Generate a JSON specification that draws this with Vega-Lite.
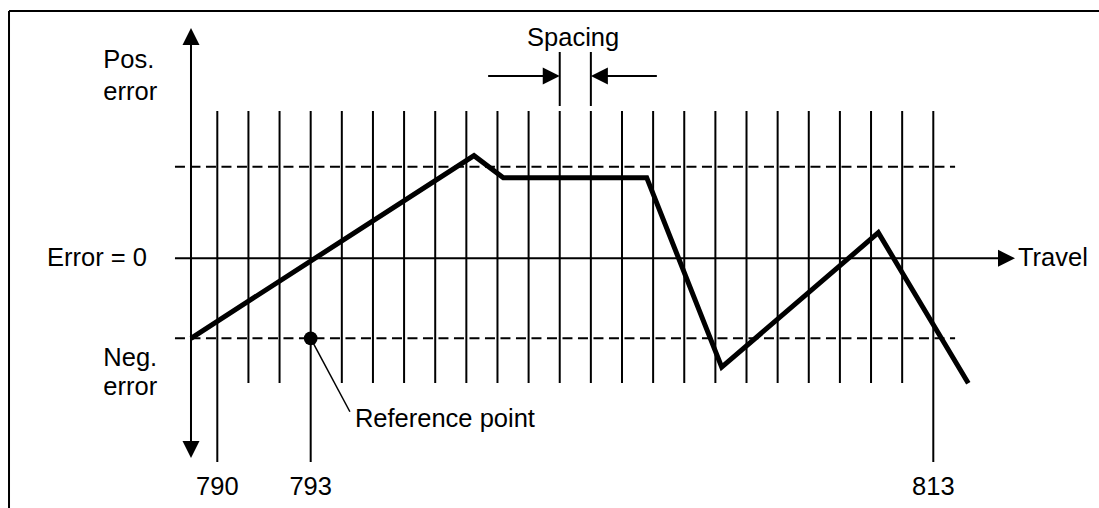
{
  "$schema": "https://vega.github.io/schema/vega-lite/v6.json",
  "width": 1099,
  "height": 508,
  "autosize": "none",
  "padding": 0,
  "background": "white",
  "config": {"view": {"stroke": null}},
  "datasets": {
    "segments": [
      {"x": 783.309, "x2": 818.5, "y": 30.91, "y2": 30.91},
      {"x": 783.309, "x2": 783.309, "y": 30.91, "y2": -31.4},
      {"x": 789.155, "x2": 789.155, "y": 28, "y2": -24},
      {"x": 788.64, "x2": 815.3, "y": 0, "y2": 0},
      {"x": 801, "x2": 801, "y": 25.79, "y2": 19.04},
      {"x": 802, "x2": 802, "y": 25.79, "y2": 19.04},
      {"x": 798.7, "x2": 800.6, "y": 22.79, "y2": 22.79},
      {"x": 802.4, "x2": 804.12, "y": 22.79, "y2": 22.79},
      {"x": 790, "x2": 790, "y": 18.41, "y2": -25.46},
      {"x": 791, "x2": 791, "y": 18.41, "y2": -15.59},
      {"x": 792, "x2": 792, "y": 18.41, "y2": -15.59},
      {"x": 793, "x2": 793, "y": 18.41, "y2": -25.46},
      {"x": 794, "x2": 794, "y": 18.41, "y2": -15.59},
      {"x": 795, "x2": 795, "y": 18.41, "y2": -15.59},
      {"x": 796, "x2": 796, "y": 18.41, "y2": -15.59},
      {"x": 797, "x2": 797, "y": 18.41, "y2": -15.59},
      {"x": 798, "x2": 798, "y": 18.41, "y2": -15.59},
      {"x": 799, "x2": 799, "y": 18.41, "y2": -15.59},
      {"x": 800, "x2": 800, "y": 18.41, "y2": -15.59},
      {"x": 801, "x2": 801, "y": 18.41, "y2": -15.59},
      {"x": 802, "x2": 802, "y": 18.41, "y2": -15.59},
      {"x": 803, "x2": 803, "y": 18.41, "y2": -15.59},
      {"x": 804, "x2": 804, "y": 18.41, "y2": -15.59},
      {"x": 805, "x2": 805, "y": 18.41, "y2": -15.59},
      {"x": 806, "x2": 806, "y": 18.41, "y2": -15.59},
      {"x": 807, "x2": 807, "y": 18.41, "y2": -15.59},
      {"x": 808, "x2": 808, "y": 18.41, "y2": -15.59},
      {"x": 809, "x2": 809, "y": 18.41, "y2": -15.59},
      {"x": 810, "x2": 810, "y": 18.41, "y2": -15.59},
      {"x": 811, "x2": 811, "y": 18.41, "y2": -15.59},
      {"x": 812, "x2": 812, "y": 18.41, "y2": -15.59},
      {"x": 813, "x2": 813, "y": 18.41, "y2": -25.46}
    ],
    "limits": [
      {"x": 788.64, "x2": 813.7, "y": 11.45, "y2": 11.45},
      {"x": 788.64, "x2": 813.7, "y": -10, "y2": -10}
    ],
    "leader": [
      {"x": 793, "x2": 794.26, "y": -10, "y2": -19.18}
    ],
    "error": [
      {"x": 789.155, "y": -10},
      {"x": 798.246, "y": 12.83},
      {"x": 799.187, "y": 10.08},
      {"x": 803.794, "y": 10.08},
      {"x": 806.203, "y": -13.61},
      {"x": 811.234, "y": 3.2},
      {"x": 814.125, "y": -15.63}
    ],
    "arrows": [
      {"x": 789.155, "y": 28.79, "dir": "up"},
      {"x": 789.155, "y": -24.96, "dir": "down"},
      {"x": 815.625, "y": 0, "dir": "right"},
      {"x": 801, "y": 22.79, "dir": "right"},
      {"x": 802, "y": 22.79, "dir": "left"}
    ],
    "refpoint": [
      {"x": 793, "y": -10}
    ],
    "leftLabels": [
      {"x": 786.338, "y": 23.79, "label": "Pos."},
      {"x": 786.338, "y": 19.79, "label": "error"},
      {"x": 786.338, "y": -13.46, "label": "Neg."},
      {"x": 786.338, "y": -17.09, "label": "error"},
      {"x": 784.53, "y": -0.96, "label": "Error = 0"},
      {"x": 815.72, "y": -0.96, "label": "Travel"},
      {"x": 794.42, "y": -21.09, "label": "Reference point"}
    ],
    "centerLabels": [
      {"x": 790, "y": -29.59, "label": "790"},
      {"x": 793, "y": -29.59, "label": "793"},
      {"x": 813, "y": -29.59, "label": "813"},
      {"x": 801.43, "y": 26.6, "label": "Spacing"}
    ]
  },
  "encoding": {
    "x": {"field": "x", "type": "quantitative", "scale": {"domain": [783.0196, 818.323], "nice": false, "zero": false}, "axis": null},
    "y": {"field": "y", "type": "quantitative", "scale": {"domain": [-31.2125, 32.2875], "nice": false, "zero": false}, "axis": null}
  },
  "layer": [
    {
      "data": {"name": "segments"},
      "mark": {"type": "rule", "color": "black", "strokeWidth": 2},
      "encoding": {"x2": {"field": "x2"}, "y2": {"field": "y2"}}
    },
    {
      "data": {"name": "limits"},
      "mark": {"type": "rule", "color": "black", "strokeWidth": 2, "strokeDash": [10, 5.5]},
      "encoding": {"x2": {"field": "x2"}, "y2": {"field": "y2"}}
    },
    {
      "data": {"name": "leader"},
      "mark": {"type": "rule", "color": "black", "strokeWidth": 1.5},
      "encoding": {"x2": {"field": "x2"}, "y2": {"field": "y2"}}
    },
    {
      "data": {"name": "error"},
      "mark": {"type": "line", "color": "black", "strokeWidth": 5, "strokeJoin": "miter", "strokeCap": "butt"},
      "encoding": {"order": {"field": "x", "type": "quantitative"}}
    },
    {
      "data": {"name": "arrows"},
      "mark": {"type": "point", "filled": true, "color": "black", "opacity": 1, "size": 289, "strokeWidth": 0},
      "encoding": {
        "shape": {
          "field": "dir",
          "type": "nominal",
          "scale": {
            "domain": ["up", "down", "right", "left"],
            "range": ["M0,0L1,2L-1,2Z", "M0,0L1,-2L-1,-2Z", "M0,0L-2,-1L-2,1Z", "M0,0L2,-1L2,1Z"]
          },
          "legend": null
        }
      }
    },
    {
      "data": {"name": "refpoint"},
      "mark": {"type": "point", "shape": "circle", "filled": true, "color": "black", "opacity": 1, "size": 190, "strokeWidth": 0}
    },
    {
      "data": {"name": "leftLabels"},
      "mark": {"type": "text", "align": "left", "baseline": "alphabetic", "font": "Liberation Sans", "fontSize": 25.5, "color": "black"},
      "encoding": {"text": {"field": "label"}}
    },
    {
      "data": {"name": "centerLabels"},
      "mark": {"type": "text", "align": "center", "baseline": "alphabetic", "font": "Liberation Sans", "fontSize": 25.5, "color": "black"},
      "encoding": {"text": {"field": "label"}}
    }
  ]
}
